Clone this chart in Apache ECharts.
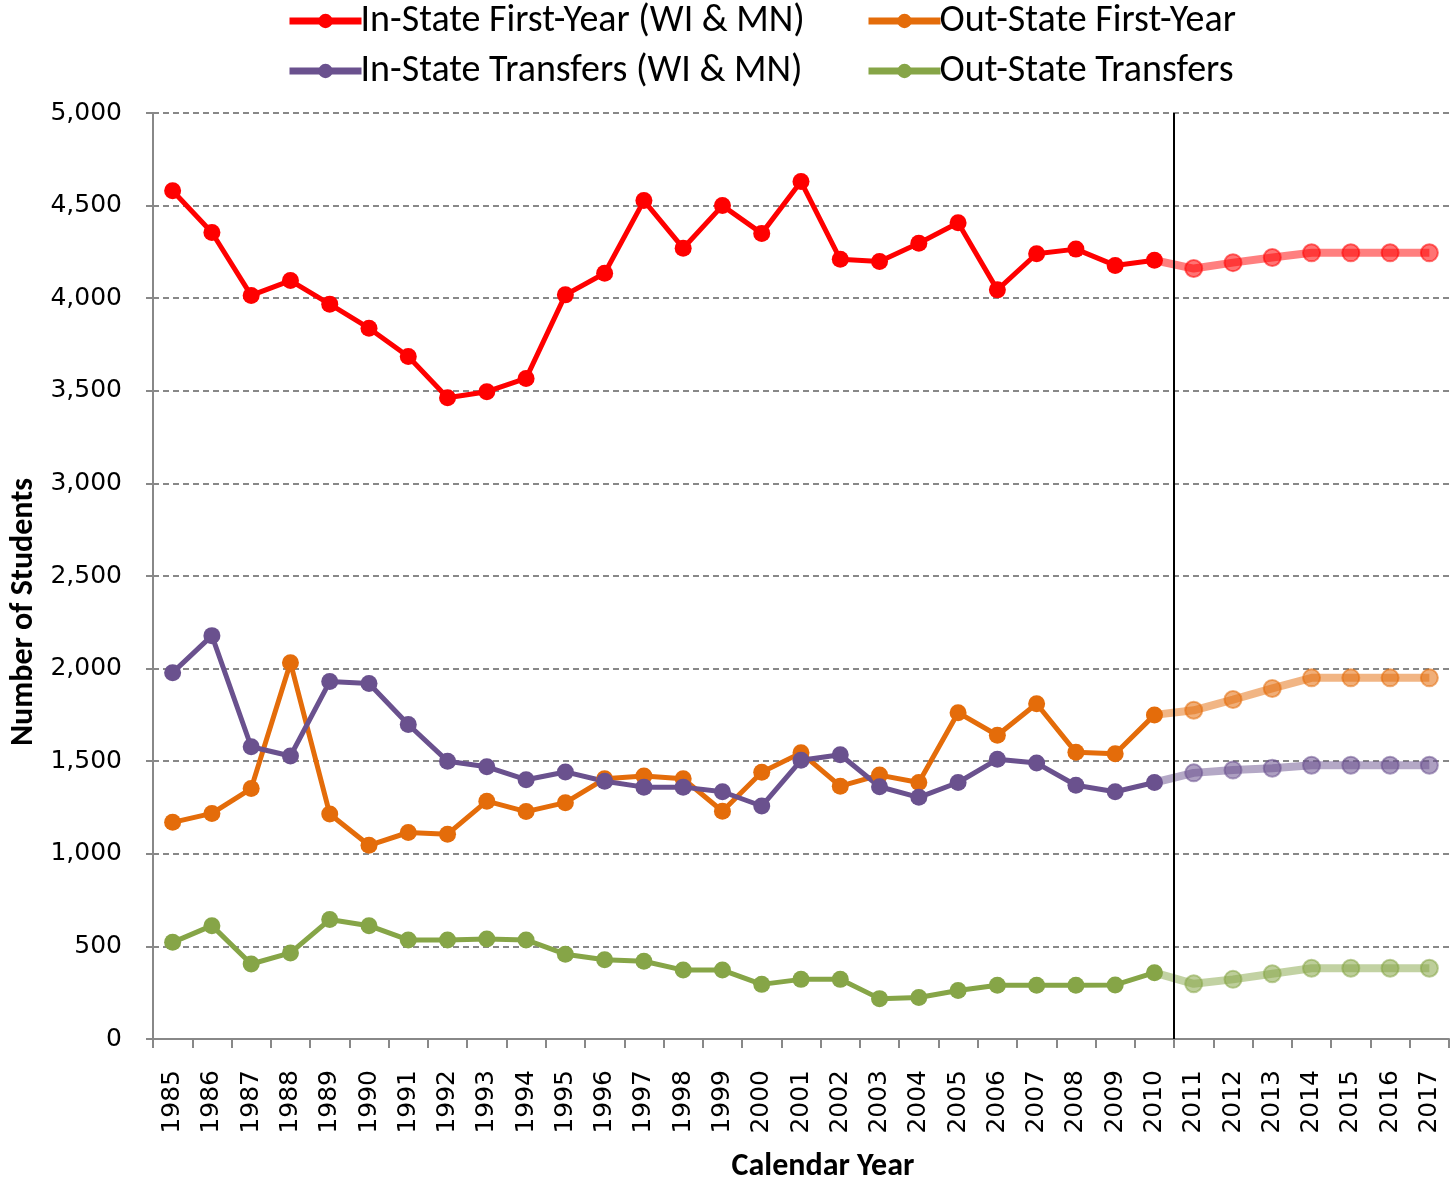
<!DOCTYPE html>
<html>
<head>
<meta charset="utf-8">
<script src="https://cdn.jsdelivr.net/npm/echarts@6/dist/echarts.min.js"></script>
<style>
  html, body { margin: 0; padding: 0; background: #fff; }
  #chart { width: 1450px; height: 1181px; }
</style>
</head>
<body>
<div id="chart"></div>
<script>
// calendar years on the x axis
const years = ['1985', '1986', '1987', '1988', '1989', '1990', '1991', '1992', '1993', '1994',
  '1995', '1996', '1997', '1998', '1999', '2000', '2001', '2002', '2003', '2004',
  '2005', '2006', '2007', '2008', '2009', '2010', '2011', '2012', '2013', '2014',
  '2015', '2016', '2017']

// actual numbers 1985 - 2010
const inStateFirstYear = [4580, 4355, 4015, 4095, 3968, 3838, 3685, 3462, 3495, 3567,
  4018, 4135, 4527, 4270, 4500, 4350, 4630, 4210, 4198, 4297,
  4407, 4045, 4240, 4265, 4177, 4205]
const outStateFirstYear = [1170, 1218, 1352, 2032, 1215, 1046, 1115, 1106, 1284, 1228,
  1276, 1405, 1420, 1405, 1230, 1440, 1545, 1365, 1425, 1385,
  1762, 1640, 1810, 1548, 1540, 1750]
const inStateTransfers = [1978, 2178, 1578, 1528, 1930, 1920, 1698, 1500, 1470, 1400,
  1442, 1392, 1360, 1360, 1335, 1258, 1505, 1535, 1362, 1305,
  1385, 1510, 1490, 1370, 1335, 1385]
const outStateTransfers = [522, 612, 405, 465, 645, 612, 535, 535, 540, 535,
  458, 428, 420, 372, 372, 295, 322, 322, 218, 224,
  262, 290, 290, 290, 292, 358]

// projections 2010 - 2017 (first value repeats 2010 so the line joins)
const inStateFirstYearProj = [4205, 4160, 4192, 4220, 4245, 4245, 4245, 4245]
const outStateFirstYearProj = [1750, 1775, 1833, 1893, 1950, 1950, 1950, 1950]
const inStateTransfersProj = [1385, 1437, 1452, 1462, 1478, 1478, 1478, 1478]
const outStateTransfersProj = [358, 298, 322, 352, 382, 382, 382, 382]

const splitIndex = 25.5 // boundary between 2010 and 2011

const FONT = 'Carlito, "Liberation Sans Narrow", "Liberation Sans", sans-serif'
const TICK_FONT = '"DejaVu Sans", Verdana, sans-serif'

function solid(name, data, color) {
  return {
    name: name,
    type: 'line',
    data: data,
    symbol: 'circle',
    symbolSize: 17,
    lineStyle: { width: 5, color: color },
    itemStyle: { color: color },
    z: 3
  }
}

function faded(name, data, color) {
  // pad the early years so the projection starts at 2010
  const pad = years.length - data.length
  const vals = new Array(pad).fill('-').concat(data.map((v, i) => i === 0 ? { value: v, symbol: 'none' } : v))
  return {
    name: name + ' proj',
    type: 'line',
    data: vals,
    symbol: 'circle',
    symbolSize: 17,
    lineStyle: { width: 8, color: color, opacity: 0.5 },
    itemStyle: { color: color, opacity: 0.55, borderColor: color, borderWidth: 2 },
    z: 2
  }
}

const colors = {
  red: '#FF0000',
  orange: '#E46C0A',
  purple: '#6A518E',
  green: '#86A547'
}

const legendText = { fontSize: 38, color: '#000', fontFamily: FONT, padding: [0, 0, 0, -6] }

const chart = echarts.init(document.getElementById('chart'))

chart.setOption({
  animation: false,
  textStyle: { fontFamily: FONT },
  grid: { left: 153, right: 1, top: 113, bottom: 142, containLabel: false, outerBoundsMode: 'none' },
  legend: [
    {
      data: ['In-State First-Year (WI & MN)', 'In-State Transfers (WI & MN)'],
      orient: 'vertical',
      left: 281,
      top: -3,
      itemWidth: 72,
      itemHeight: 18,
      itemGap: 12,
      lineStyle: { width: 7 },
      textStyle: legendText
    },
    {
      data: ['Out-State First-Year', 'Out-State Transfers'],
      orient: 'vertical',
      left: 860,
      top: -3,
      itemWidth: 72,
      itemHeight: 18,
      itemGap: 12,
      lineStyle: { width: 7 },
      textStyle: legendText
    }
  ],
  xAxis: [
    {
      type: 'category',
      data: years,
      boundaryGap: true,
      name: 'Calendar Year',
      nameLocation: 'middle',
      nameGap: 112,
      nameTextStyle: { fontSize: 32, fontWeight: 'bold', color: '#000', fontFamily: FONT, padding: [0, 0, 0, 44] },
      axisLine: { lineStyle: { color: '#888', width: 2 } },
      axisTick: { show: true, length: 9, lineStyle: { color: '#888', width: 2 } },
      axisLabel: { rotate: 90, fontSize: 25, color: '#000', margin: 31, interval: 0, fontFamily: TICK_FONT },
      splitLine: { show: false }
    },
    {
      // hidden helper axis so the divider can sit between 2010 and 2011
      type: 'value',
      min: -0.5,
      max: years.length - 0.5,
      show: false
    }
  ],
  yAxis: {
    type: 'value',
    min: 0,
    max: 5000,
    interval: 500,
    name: 'Number of Students',
    nameLocation: 'middle',
    nameGap: 109,
    nameTextStyle: { fontSize: 32, fontWeight: 'bold', color: '#000', fontFamily: FONT, padding: [0, 72, 0, 0] },
    axisLine: { show: true, onZero: false, lineStyle: { color: '#888', width: 2 } },
    axisTick: { show: true, length: 7, lineStyle: { color: '#888', width: 2 } },
    axisLabel: {
      fontSize: 25,
      color: '#000',
      margin: 31,
      fontFamily: TICK_FONT,
      formatter: v => v.toLocaleString('en-US')
    },
    splitLine: { show: true, lineStyle: { color: '#888', width: 2, type: [6, 4] } }
  },
  series: [
    solid('In-State First-Year (WI & MN)', inStateFirstYear, colors.red),
    solid('Out-State First-Year', outStateFirstYear, colors.orange),
    solid('In-State Transfers (WI & MN)', inStateTransfers, colors.purple),
    solid('Out-State Transfers', outStateTransfers, colors.green),
    faded('In-State First-Year (WI & MN)', inStateFirstYearProj, colors.red),
    faded('Out-State First-Year', outStateFirstYearProj, colors.orange),
    faded('In-State Transfers (WI & MN)', inStateTransfersProj, colors.purple),
    faded('Out-State Transfers', outStateTransfersProj, colors.green),
    {
      name: 'divider',
      type: 'line',
      xAxisIndex: 1,
      data: [],
      markLine: {
        silent: true,
        symbol: 'none',
        label: { show: false },
        lineStyle: { color: '#000', width: 2, type: 'solid' },
        data: [{ xAxis: splitIndex }]
      }
    }
  ]
})
</script>
</body>
</html>
